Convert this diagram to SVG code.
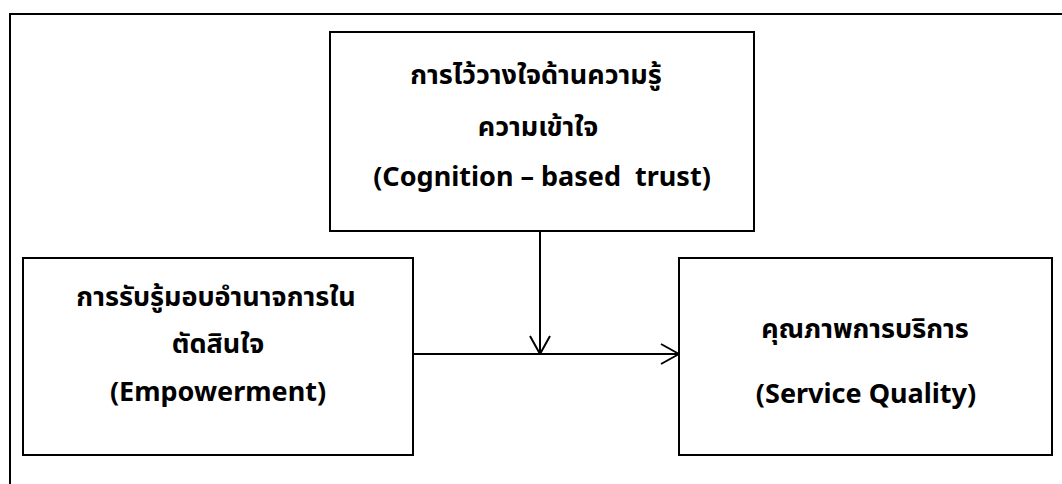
<svg xmlns="http://www.w3.org/2000/svg" width="1062" height="484" viewBox="0 0 1062 484">
  <style>
    .box { fill: #ffffff; stroke: #000000; stroke-width: 2; }
    .frame { fill: none; stroke: #000000; stroke-width: 2; }
    .lbl { font-family: "Noto Sans", "Noto Sans Thai", "Tahoma", "DejaVu Sans", sans-serif; font-size: 27px; font-weight: bold; fill: #000000; text-anchor: middle; }
    .conn { fill: none; stroke: #000000; stroke-width: 2; }
  </style>
  <defs>
    <marker id="arrow" viewBox="0 0 20 22" refX="19" refY="11" markerWidth="20" markerHeight="22" markerUnits="userSpaceOnUse" orient="auto">
      <path d="M1,1 L19,11 L1,21" fill="none" stroke="#000000" stroke-width="2"/>
    </marker>
  </defs>
  <rect width="1062" height="484" fill="#ffffff"/>
  <path class="frame" d="M10,484 V14 H1062"/>
  <g id="node-trust">
    <rect class="box" x="330" y="32" width="424" height="199"/>
    <text class="lbl" x="536" y="84">การไว้วางใจด้านความรู้</text>
    <text class="lbl" x="538" y="136">ความเข้าใจ</text>
    <text class="lbl" x="542" y="186" xml:space="preserve">(Cognition – based  trust)</text>
  </g>
  <g id="node-empowerment">
    <rect class="box" x="23" y="258" width="390" height="197"/>
    <text class="lbl" x="216" y="306">การรับรู้มอบอำนาจการใน</text>
    <text class="lbl" x="218" y="353">ตัดสินใจ</text>
    <text class="lbl" x="218" y="401">(Empowerment)</text>
  </g>
  <g id="node-quality">
    <rect class="box" x="679" y="258" width="373" height="197"/>
    <text class="lbl" x="865" y="338">คุณภาพการบริการ</text>
    <text class="lbl" x="866" y="403">(Service Quality)</text>
  </g>
  <g id="connectors">
    <line class="conn" x1="540" y1="232" x2="540" y2="354" marker-end="url(#arrow)"/>
    <line class="conn" x1="413" y1="354" x2="679" y2="354" marker-end="url(#arrow)"/>
  </g>
</svg>
